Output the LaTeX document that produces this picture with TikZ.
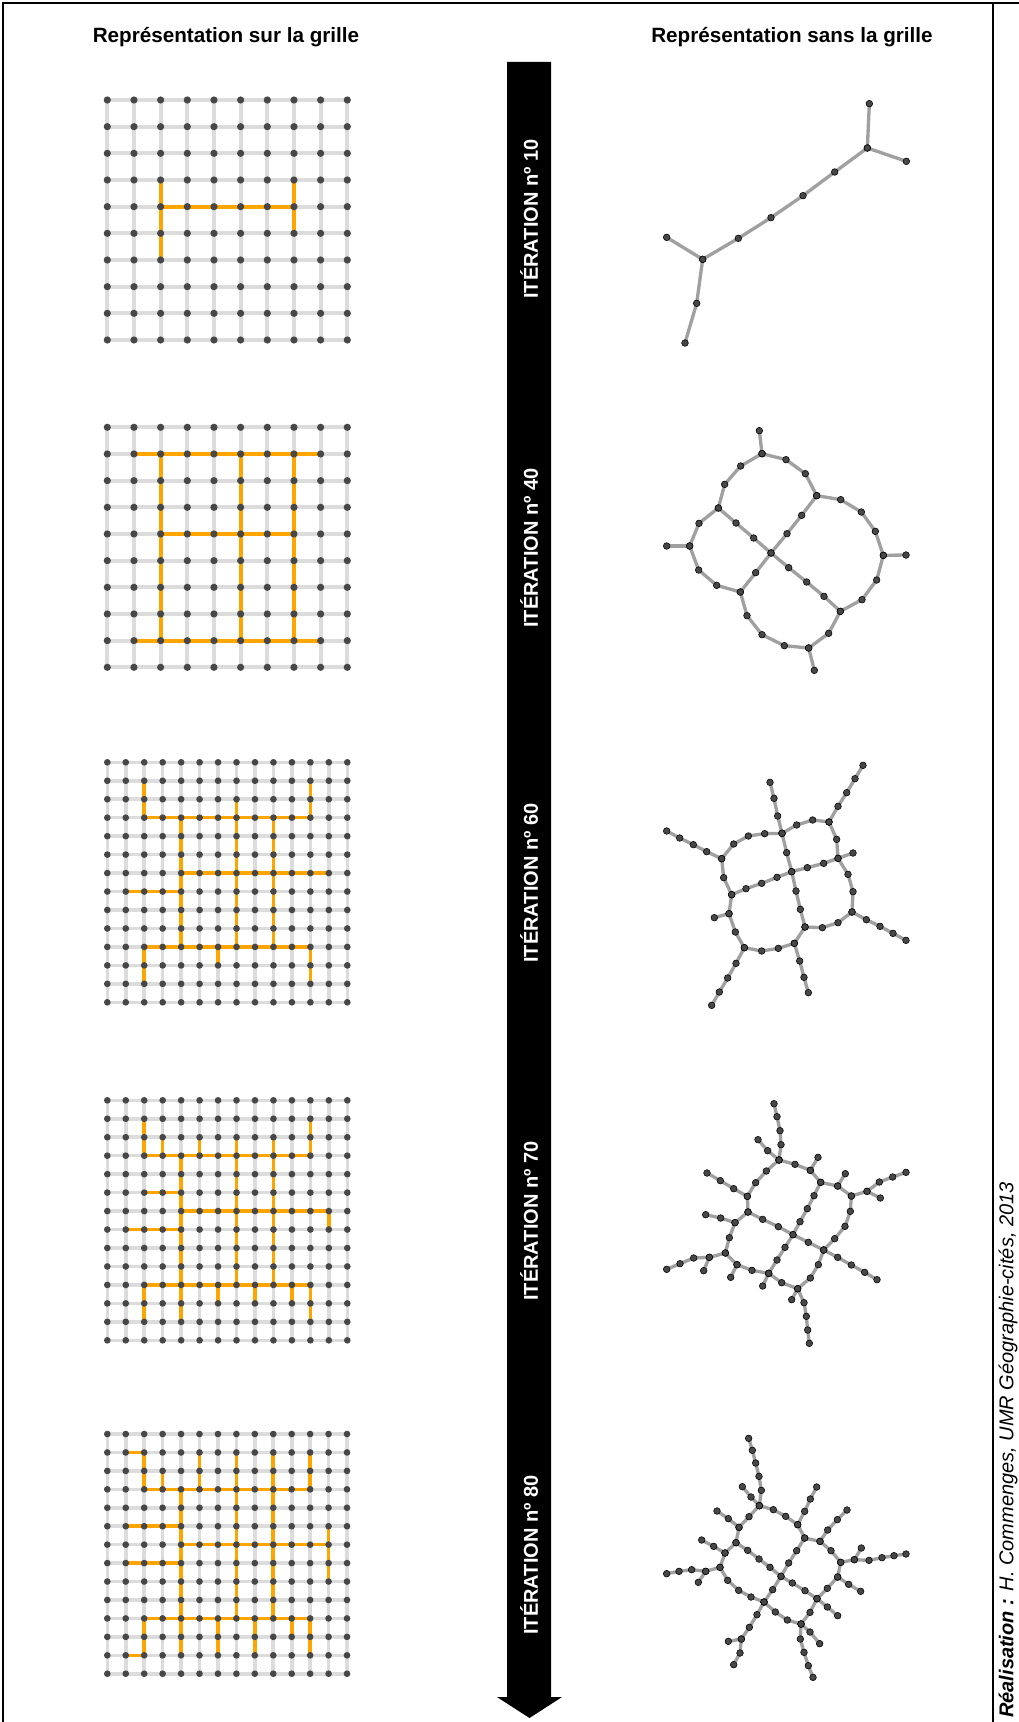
\documentclass[tikz,border=0pt]{standalone}
\usepackage{fontspec}
\setmainfont{Liberation Sans}
\definecolor{gridgray}{HTML}{DCDCDC}
\definecolor{orangeC}{HTML}{FFA500}
\definecolor{dotcol}{HTML}{474747}
\definecolor{netgray}{HTML}{A0A0A0}
\tikzset{
  header/.style={font=\bfseries\fontsize{15.5}{18}\selectfont},
  itlabel/.style={rotate=90, text=white, font=\bfseries\fontsize{15}{18}\selectfont},
  netline/.style={draw=netgray, line width=2.5pt, line join=round},
  netdots/.style={only marks, mark=*, mark size=2.5pt, mark options={draw=none, fill=dotcol}},
}
% x0, y0, last index, spacing, line width, dot radius, orange paths
\newcommand\gridpic[7]{%
  \begin{scope}[shift={(#1,#2)}, x=#4, y=-#4]
    \foreach \i in {0,...,#3} {
      \draw[gridgray, line width=#5] (\i,0) -- (\i,#3);
      \draw[gridgray, line width=#5] (0,\i) -- (#3,\i);
    }
    \draw[orangeC, line width=#5] #7;
    \foreach \i in {0,...,#3} \foreach \j in {0,...,#3}
      \fill[dotcol] (\i,\j) circle[radius=#6];
  \end{scope}}
\newcommand\NetOne[1]{%
  \path[#1] plot coordinates {(643,35)(637,168)(754,208)};
  \path[#1] plot coordinates {(637,168)(539,240)(444,311)(348,377)(250,439)(143,502)(35,436)};
  \path[#1] plot coordinates {(143,502)(125,634)(90,753)};}
\newcommand\NetTwo[1]{%
  \path[#1] plot coordinates {(321,107)(393,125)(451,167)(485,233)(557,245)(619,282)(661,340)(685,412)(665,486)(621,545)(556,580)(521,646)(461,690)(388,683)(321,650)(276,593)(256,522)(185,502)(131,456)(104,384)(132,316)(190,270)(209,199)(257,144)(321,107)};
  \path[#1] plot coordinates {(313,38)(321,107)};
  \path[#1] plot coordinates {(685,412)(753,411)};
  \path[#1] plot coordinates {(461,690)(478,757)};
  \path[#1] plot coordinates {(104,384)(35,384)};
  \path[#1] plot coordinates {(190,270)(243,315)(296,360)(348,405)(401,449)(455,492)(507,535)(556,580)};
  \path[#1] plot coordinates {(485,233)(440,292)(396,347)(348,405)(302,464)(256,522)};}
\newcommand\NetThree[1]{%
  \path[#1] plot coordinates {(345,91)(357,139)(368,192)(381,244)(395,302)(410,359)(423,417)(436,472)(450,525)(418,574)(434,627)(447,676)(460,722)};
  \path[#1] plot coordinates {(624,40)(600,80)(575,122)(549,163)(522,210)(545,262)(549,319)(579,367)(594,419)(591,480)(634,503)(675,523)(714,544)(753,565)};
  \path[#1] plot coordinates {(381,244)(425,219)(473,204)(522,210)};
  \path[#1] plot coordinates {(381,244)(329,245)(280,252)(236,276)(200,320)(206,377)(230,428)(222,485)(241,540)(268,587)(320,597)(370,589)(418,574)};
  \path[#1] plot coordinates {(35,237)(74,258)(115,278)(155,299)(200,320)};
  \path[#1] plot coordinates {(230,428)(273,410)(320,394)(366,376)(410,359)(457,347)(506,334)(549,319)(594,303)};
  \path[#1] plot coordinates {(450,525)(502,527)(549,512)(591,480)};
  \path[#1] plot coordinates {(178,497)(222,485)};
  \path[#1] plot coordinates {(268,587)(243,634)(218,678)(193,720)(170,760)};}
\newcommand\NetFour[1]{%
  \path[#1] plot coordinates {(357,35)(366,74)(375,116)(378,158)(372,204)(420,217)(466,235)(497,271)(548,282)(589,312)(636,298)(673,270)(713,255)(753,241)};
  \path[#1] plot coordinates {(309,143)(338,176)(372,204)};
  \path[#1] plot coordinates {(489,196)(466,235)};
  \path[#1] plot coordinates {(571,245)(548,282)};
  \path[#1] plot coordinates {(636,298)(676,318)};
  \path[#1] plot coordinates {(589,312)(586,358)(570,403)(539,440)(506,474)(548,496)(589,519)(629,541)(666,563)};
  \path[#1] plot coordinates {(506,474)(490,518)(466,558)(428,590)(447,632)(454,673)(458,714)(463,754)};
  \path[#1] plot coordinates {(410,623)(428,590)(380,572)(341,544)(291,535)(246,518)(211,483)(163,496)(116,498)(75,515)(35,532)};
  \path[#1] plot coordinates {(341,544)(323,582)};
  \path[#1] plot coordinates {(246,518)(227,556)};
  \path[#1] plot coordinates {(163,496)(146,536)};
  \path[#1] plot coordinates {(211,483)(223,437)(240,392)(279,360)(277,313)(302,272)(334,237)(372,204)};
  \path[#1] plot coordinates {(240,392)(197,378)(152,368)};
  \path[#1] plot coordinates {(277,313)(236,290)(196,266)(156,243)};
  \path[#1] plot coordinates {(279,360)(323,382)(370,404)(414,428)(460,451)(506,474)};
  \path[#1] plot coordinates {(497,271)(477,311)(457,350)(435,389)(414,428)(390,466)(366,504)(341,544)};}
\newcommand\NetFive[1]{%
  \path[#1] plot coordinates {(281,31)(292,67)(302,105)(312,145)(319,187)(313,233)(355,245)(392,265)(428,290)(449,330)(495,340)(528,368)(557,403)(598,395)(642,397)(681,389)(717,383)(753,378)};
  \path[#1] plot coordinates {(262,176)(288,207)(313,233)};
  \path[#1] plot coordinates {(428,290)(449,250)(466,213)(485,177)};
  \path[#1] plot coordinates {(495,340)(518,306)(547,275)(576,246)};
  \path[#1] plot coordinates {(598,395)(619,360)};
  \path[#1] plot coordinates {(557,403)(548,447)(517,481)(486,512)(465,553)(438,588)(436,633)(447,673)(460,713)(474,748)};
  \path[#1] plot coordinates {(548,447)(581,469)(617,490)};
  \path[#1] plot coordinates {(486,512)(517,537)(548,563)};
  \path[#1] plot coordinates {(438,588)(465,612)(494,647)};
  \path[#1] plot coordinates {(438,588)(397,576)(361,552)(327,522)(288,507)(251,487)(218,457)(195,418)(152,430)(110,425)(72,430)(35,437)};
  \path[#1] plot coordinates {(152,430)(130,463)};
  \path[#1] plot coordinates {(327,522)(306,560)(283,598)(259,633)(255,675)(236,710)};
  \path[#1] plot coordinates {(259,633)(220,640)};
  \path[#1] plot coordinates {(195,418)(210,375)(243,344)(252,298)(282,266)(313,233)};
  \path[#1] plot coordinates {(210,375)(176,355)(140,336)};
  \path[#1] plot coordinates {(252,298)(220,272)(186,249)};
  \path[#1] plot coordinates {(243,344)(278,367)(312,393)(345,418)(378,445)(412,465)(450,488)(486,512)};
  \path[#1] plot coordinates {(449,330)(425,368)(401,405)(378,445)(353,485)(327,522)};}
\begin{document}
\begin{tikzpicture}[x=0.75pt, y=-0.75pt]
\useasboundingbox (0,0) rectangle (1019,1722);
\fill[white] (0,0) rectangle (1019,1722);
% frame
\draw[line width=1.5pt] (3,1722) -- (3,3) -- (1019,3);
\draw[line width=1.5pt] (993,3) -- (993,1722);
% headers
\node[header] (h1) at (226,37) {Représentation sur la grille};
\node[header] (h2) at (792,37) {Représentation sans la grille};
% arrow
\fill[black] (507,62) -- (551,62) -- (551,1697) -- (562,1697) -- (529.5,1718) -- (497,1697) -- (507,1697) -- cycle;
\node[itlabel] (it10) at (529,219) {ITÉRATION nº 10};
\node[itlabel] (it40) at (529,548) {ITÉRATION nº 40};
\node[itlabel] (it60) at (529,883) {ITÉRATION nº 60};
\node[itlabel] (it70) at (529,1221) {ITÉRATION nº 70};
\node[itlabel] (it80) at (529,1555) {ITÉRATION nº 80};
% credit
\node[rotate=90, font=\itshape\fontsize{15}{18}\selectfont] (credit) at (1008,1450) {\textbf{Réalisation :} H. Commenges, UMR Géographie-cités, 2013};
% grids
\gridpic{107.3}{100}{9}{20pt}{3pt}{2.7pt}{(2,3)--(2,6) (2,4)--(7,4) (7,3)--(7,5)}
\gridpic{107.3}{427.3}{9}{20pt}{3pt}{2.7pt}{(1,1)--(8,1) (2,1)--(2,8) (5,1)--(5,8) (7,1)--(7,8) (2,4)--(7,4) (1,8)--(8,8)}
\gridpic{107.3}{762.3}{13}{13.846pt}{2.7pt}{2.5pt}{(2,1)--(2,3) (2,3)--(11,3) (11,1)--(11,3) (7,2)--(7,10) (4,3)--(4,10) (9,3)--(9,10) (4,6)--(12,6) (1,7)--(4,7) (2,10)--(11,10) (2,10)--(2,12) (6,10)--(6,11) (11,10)--(11,12)}
\gridpic{107.3}{1100.3}{13}{13.846pt}{2.7pt}{2.5pt}{(2,1)--(2,3) (3,2)--(3,3) (5,2)--(5,3) (2,3)--(11,3) (11,1)--(11,3) (7,2)--(7,10) (9,2)--(9,10) (4,3)--(4,12) (2,5)--(4,5) (4,6)--(12,6)--(12,7) (1,7)--(4,7) (2,10)--(11,10) (2,10)--(2,12) (6,10)--(6,11) (8,10)--(8,11) (10,10)--(10,11) (11,10)--(11,12)}
\gridpic{107.3}{1434}{13}{13.83pt}{2.7pt}{2.5pt}{(1,1)--(2,1)--(2,3) (3,2)--(3,3) (5,1)--(5,3) (7,1)--(7,10) (9,1)--(9,10) (11,1)--(11,3) (2,3)--(11,3) (4,3)--(4,12) (1,5)--(4,5) (4,6)--(12,6) (12,5)--(12,8) (1,7)--(4,7) (2,10)--(11,10) (1,12)--(2,12)--(2,10) (6,10)--(6,12) (8,10)--(8,12) (10,10)--(10,11) (11,10)--(11,12)}
% networks
\begin{scope}[shift={(655,92)}, x=0.25pt, y=-0.25pt]
  \NetOne{netline} \NetOne{netdots}
\end{scope}
\begin{scope}[shift={(655,418)}, x=0.25pt, y=-0.25pt]
  \NetTwo{netline} \NetTwo{netdots}
\end{scope}
\begin{scope}[shift={(655,752)}, x=0.25pt, y=-0.25pt]
  \NetThree{netline} \NetThree{netdots}
\end{scope}
\begin{scope}[shift={(655,1092)}, x=0.25pt, y=-0.25pt]
  \NetFour{netline} \NetFour{netdots}
\end{scope}
\begin{scope}[shift={(655,1428)}, x=0.25pt, y=-0.25pt]
  \NetFive{netline} \NetFive{netdots}
\end{scope}
\end{tikzpicture}
\end{document}
